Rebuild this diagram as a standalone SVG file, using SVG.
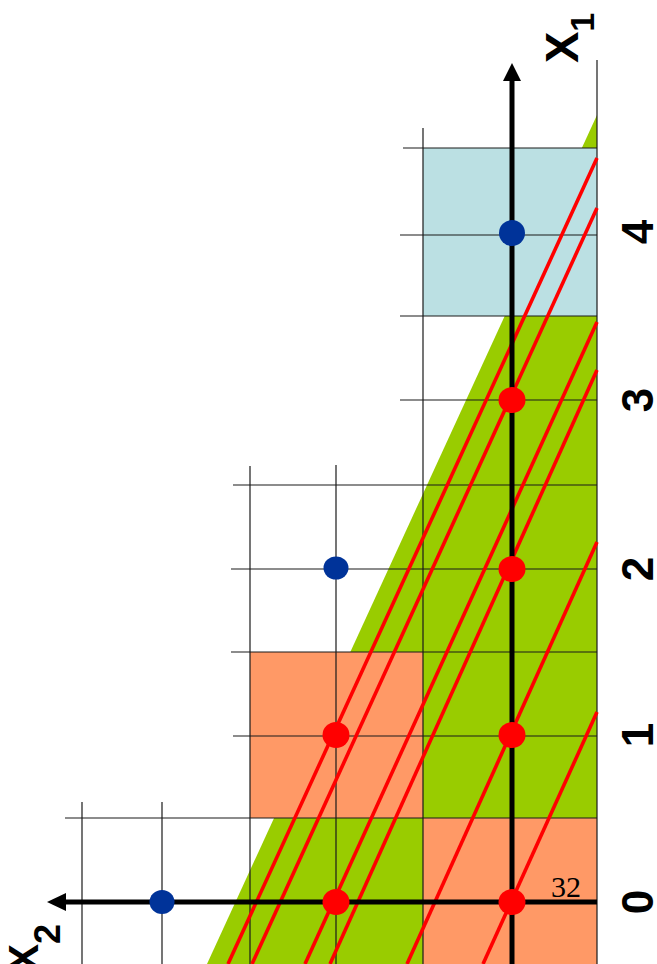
<svg xmlns="http://www.w3.org/2000/svg" width="657" height="964" viewBox="0 0 657 964">
<style>
.grid{stroke:#1a1a1a;stroke-width:1.2;fill:none}
.red{stroke:#ff0000;stroke-width:3.6;fill:none}
.axis{stroke:#000;stroke-width:5;fill:none}
.lbl{font-family:"Liberation Sans",Arial,sans-serif;font-weight:bold;fill:#000}
.rdot{fill:#ff0000}
.bdot{fill:#003399}
</style>
<rect width="657" height="964" fill="#fff"/>
<g id="regions">
<polygon id="feasible" points="597,115 597,964 207,964" fill="#99cc00"/>
<rect id="box-blue" x="423" y="148" width="174" height="168" fill="#bbe0e3"/>
<rect id="box-orange1" x="250" y="652" width="173" height="166" fill="#ff9966"/>
<rect id="box-orange2" x="423" y="818" width="174" height="146" fill="#ff9966"/>
</g>
<g id="gridlines" class="grid">
<line x1="403" y1="148" x2="597" y2="148"/>
<line x1="400" y1="235" x2="597" y2="235"/>
<line x1="400" y1="316" x2="597" y2="316"/>
<line x1="400" y1="400" x2="597" y2="400"/>
<line x1="233" y1="485" x2="597" y2="485"/>
<line x1="231" y1="569" x2="597" y2="569"/>
<line x1="231" y1="652" x2="597" y2="652"/>
<line x1="233" y1="736" x2="597" y2="736"/>
<line x1="65" y1="818" x2="597" y2="818"/>
<line x1="423" y1="128" x2="423" y2="964"/>
<line x1="336" y1="465" x2="336" y2="964"/>
<line x1="250" y1="466" x2="250" y2="964"/>
<line x1="162" y1="802" x2="162" y2="964"/>
<line x1="82" y1="802" x2="82" y2="964"/>
<line x1="597" y1="60" x2="597" y2="964"/>
</g>
<g id="connectors">
<g id="cuts" class="red">
<line x1="597" y1="158" x2="228" y2="964"/>
<line x1="597" y1="208" x2="252" y2="964"/>
<line x1="597" y1="322" x2="305" y2="964"/>
<line x1="597" y1="370" x2="330" y2="964"/>
<line x1="597" y1="542" x2="407" y2="964"/>
<line x1="597" y1="712" x2="483" y2="964"/>
</g>
<g id="axes">
<line class="axis" x1="512" y1="964" x2="512" y2="78"/>
<polygon points="512,63 503,81 521,81" fill="#000"/>
<line class="axis" x1="597" y1="902" x2="64" y2="902"/>
<polygon points="47,902 66,893 66,911" fill="#000"/>
</g>
</g>
<g id="points">
<ellipse class="rdot" cx="512" cy="902" rx="13.5" ry="13"/>
<ellipse class="rdot" cx="336" cy="902" rx="13.5" ry="13"/>
<ellipse class="rdot" cx="512" cy="735" rx="13.5" ry="13"/>
<ellipse class="rdot" cx="336" cy="735" rx="13.5" ry="13"/>
<ellipse class="rdot" cx="512" cy="569" rx="13.5" ry="13"/>
<ellipse class="rdot" cx="512" cy="400" rx="13.5" ry="13"/>
<ellipse class="bdot" cx="512" cy="233" rx="13" ry="13"/>
<ellipse class="bdot" cx="336" cy="568" rx="12.5" ry="11.5"/>
<ellipse class="bdot" cx="162" cy="902" rx="12.5" ry="12"/>
</g>
<g id="labels">
<text class="lbl" font-size="47" transform="translate(578,63) rotate(-90)">X<tspan font-size="34" dy="16">1</tspan></text>
<text class="lbl" font-size="42" transform="translate(38,972) rotate(-90)">X<tspan font-size="36" dy="22">2</tspan></text>
<text class="lbl" font-size="44" text-anchor="middle" transform="translate(653,902) rotate(-90)">0</text>
<text class="lbl" font-size="44" text-anchor="middle" transform="translate(653,735) rotate(-90)">1</text>
<text class="lbl" font-size="44" text-anchor="middle" transform="translate(653,569) rotate(-90)">2</text>
<text class="lbl" font-size="44" text-anchor="middle" transform="translate(653,400) rotate(-90)">3</text>
<text class="lbl" font-size="44" text-anchor="middle" transform="translate(653,232) rotate(-90)">4</text>
<text x="551" y="897" font-family="'Liberation Serif','DejaVu Serif',serif" font-size="30" fill="#000">32</text>
</g>
</svg>
